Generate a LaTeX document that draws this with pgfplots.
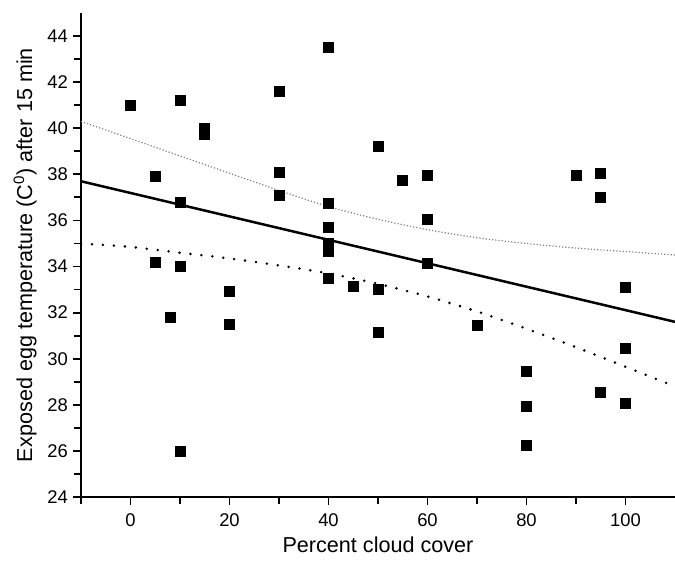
\documentclass[border=0pt]{standalone}
\usepackage{pgfplots}
\pgfplotsset{compat=1.18}
\usepackage{fontspec}
\setmainfont{Liberation Sans}
\begin{document}
\begin{tikzpicture}
\useasboundingbox (-40.5pt,-36.5pt) rectangle (297pt,248.5pt);
\begin{axis}[
  at={(0pt,0pt)}, anchor=south west,
  scale only axis, width=297pt, height=242pt,
  xmin=-10, xmax=110, ymin=24, ymax=45,
  axis lines*=left,
  axis line style={line width=0.9pt},
  xtick={0,20,40,60,80,100},
  ytick={24,26,...,44},
  minor xtick={-10,10,30,50,70,90},
  minor ytick={25,27,...,43},
  tick align=outside,
  major tick length=4pt, minor tick length=3.5pt,
  every tick/.style={line width=0.9pt, black},
  /pgf/number format/assume math mode=true,
  tick label style={font=\fontsize{9.2}{11}\selectfont},
  xticklabel style={yshift=-1pt},
  yticklabel style={xshift=1pt},
  label style={font=\fontsize{10.8}{13}\selectfont},
  xlabel={Percent cloud cover},
  ylabel={Exposed egg temperature (C\textsuperscript{0}) after 15 min},
  xlabel style={at={(axis description cs:0.5,-0.099)}, anchor=center},
  ylabel style={at={(axis description cs:-0.094,0.5)}, anchor=center},
  clip=false,
]
\addplot[only marks, mark=square*, mark size=2.5pt, black] coordinates {
(0,41.0) (5,37.9) (5,34.2) (10,41.2) (10,36.8) (10,34.0) (8,31.8) (10,26.0)
(15,40.0) (15,39.75) (20,32.9) (20,31.5)
(30,41.6) (30,38.1) (30,37.1)
(40,43.5) (40,36.75) (40,35.7) (40,35.0) (40,34.85) (40,34.65) (40,33.5)
(45,33.15) (50,39.2) (50,33.0) (50,31.15) (55,37.75)
(60,37.95) (60,36.05) (60,34.15) (70,31.45)
(80,29.45) (80,27.95) (80,26.25)
(90,37.95) (95,38.05) (95,37.0) (95,28.55)
(100,33.1) (100,30.45) (100,28.05)
};
\addplot[black, line width=1.25pt] coordinates {(-10,37.7) (110,31.6)};
\addplot[gray, line width=0.6pt, dash pattern=on 0.6pt off 1.0pt, smooth] coordinates {
(-10,40.3) (0,39.55) (10,38.8) (20,38.05) (30,37.3) (40,36.6) (50,36.05)
(60,35.6) (70,35.25) (80,35.0) (90,34.8) (100,34.65) (110,34.5)
};
\addplot[black, line width=1.4pt, dash pattern=on 0pt off 5.5pt, line cap=round, smooth] coordinates {
(-10,35.0) (0,34.85) (10,34.6) (20,34.35) (30,34.05) (40,33.7) (50,33.25)
(60,32.7) (70,32.05) (80,31.3) (90,30.5) (100,29.65) (110,28.8)
};
\end{axis}
\end{tikzpicture}
\end{document}
